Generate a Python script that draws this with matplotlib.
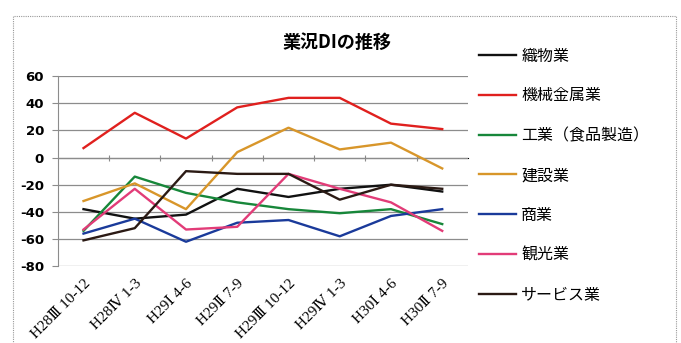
import numpy as np
import matplotlib.pyplot as plt
from matplotlib.patches import Rectangle

plt.rcParams['font.family'] = ['Noto Sans CJK JP', 'DejaVu Sans']
plt.rcParams['axes.unicode_minus'] = False

# 期間ラベル
periods = ["H28Ⅲ 10-12", "H28Ⅳ 1-3", "H29Ⅰ 4-6", "H29Ⅱ 7-9",
           "H29Ⅲ 10-12", "H29Ⅳ 1-3", "H30Ⅰ 4-6", "H30Ⅱ 7-9"]

# 業種別 DI
orimono = [-38, -45, -42, -23, -29, -23, -20, -25]
kikai = [7, 33, 14, 37, 44, 44, 25, 21]
kogyo = [-54, -14, -26, -33, -38, -41, -38, -49]
kensetsu = [-32, -19, -38, 4, 22, 6, 11, -8]
shogyo = [-56, -45, -62, -48, -46, -58, -43, -38]
kanko = [-53, -23, -53, -51, -12, -23, -33, -54]
service = [-61, -52, -10, -12, -12, -31, -20, -23]

series = [
    ("織物業", orimono, "#111111"),
    ("機械金属業", kikai, "#e0201e"),
    ("工業（食品製造）", kogyo, "#17873a"),
    ("建設業", kensetsu, "#d8962a"),
    ("商業", shogyo, "#1a3a9a"),
    ("観光業", kanko, "#e23c78"),
    ("サービス業", service, "#2b1a14"),
]

fig = plt.figure(figsize=(6.81, 3.43), dpi=100)
ax = fig.add_axes([0.085, 0.224, 0.602, 0.554])

x = np.arange(len(periods))
for name, vals, col in series:
    ax.plot(x, vals, color=col, lw=1.7, label=name)

ax.set_xlim(-0.5, len(periods) - 0.5)
ax.set_ylim(-80, 60)
ax.set_yticks(range(-80, 61, 20))
ax.yaxis.grid(True, color="#8c8c8c", lw=0.9)
ax.set_axisbelow(True)
for s in ["top", "right", "bottom"]:
    ax.spines[s].set_visible(False)
ax.spines["left"].set_color("#8c8c8c")
ax.tick_params(axis="y", length=4, color="#8c8c8c", labelsize=9.5, pad=6)
for t in ax.get_yticklabels():
    t.set_fontweight("bold")
    t.set_family(["DejaVu Sans"])

ax.set_xticks(x)
ax.set_xticklabels(periods, rotation=45, ha="right", rotation_mode="anchor",
                   fontsize=11, family=["Liberation Serif", "DejaVu Serif"])
ax.tick_params(axis="x", length=0, pad=8)

# 0 の線上の区切り目盛り
sec = ax.secondary_xaxis(80 / 140)
sec.set_xticks(np.arange(0.5, len(periods) - 0.5, 1))
sec.set_xticklabels([])
sec.tick_params(direction="inout", length=5, color="#8c8c8c")
sec.spines["bottom"].set_visible(False)

fig.text(0.495, 0.877, "業況DIの推移", ha="center", va="center",
         fontsize=13, fontweight="bold")

leg = ax.legend(loc="upper left", frameon=False,
                fontsize=11.5, handlelength=2.3, handletextpad=0.35,
                labelspacing=1.43, borderaxespad=0.0)
leg.set_bbox_to_anchor((0.694, 0.88), transform=fig.transFigure)

fig.patches.append(Rectangle((0.019, -0.05), 0.974, 1.003, transform=fig.transFigure,
                             fill=False, ls=(0, (1, 1)), lw=0.8, ec="#999999"))

fig.savefig("out.png", dpi=100)
